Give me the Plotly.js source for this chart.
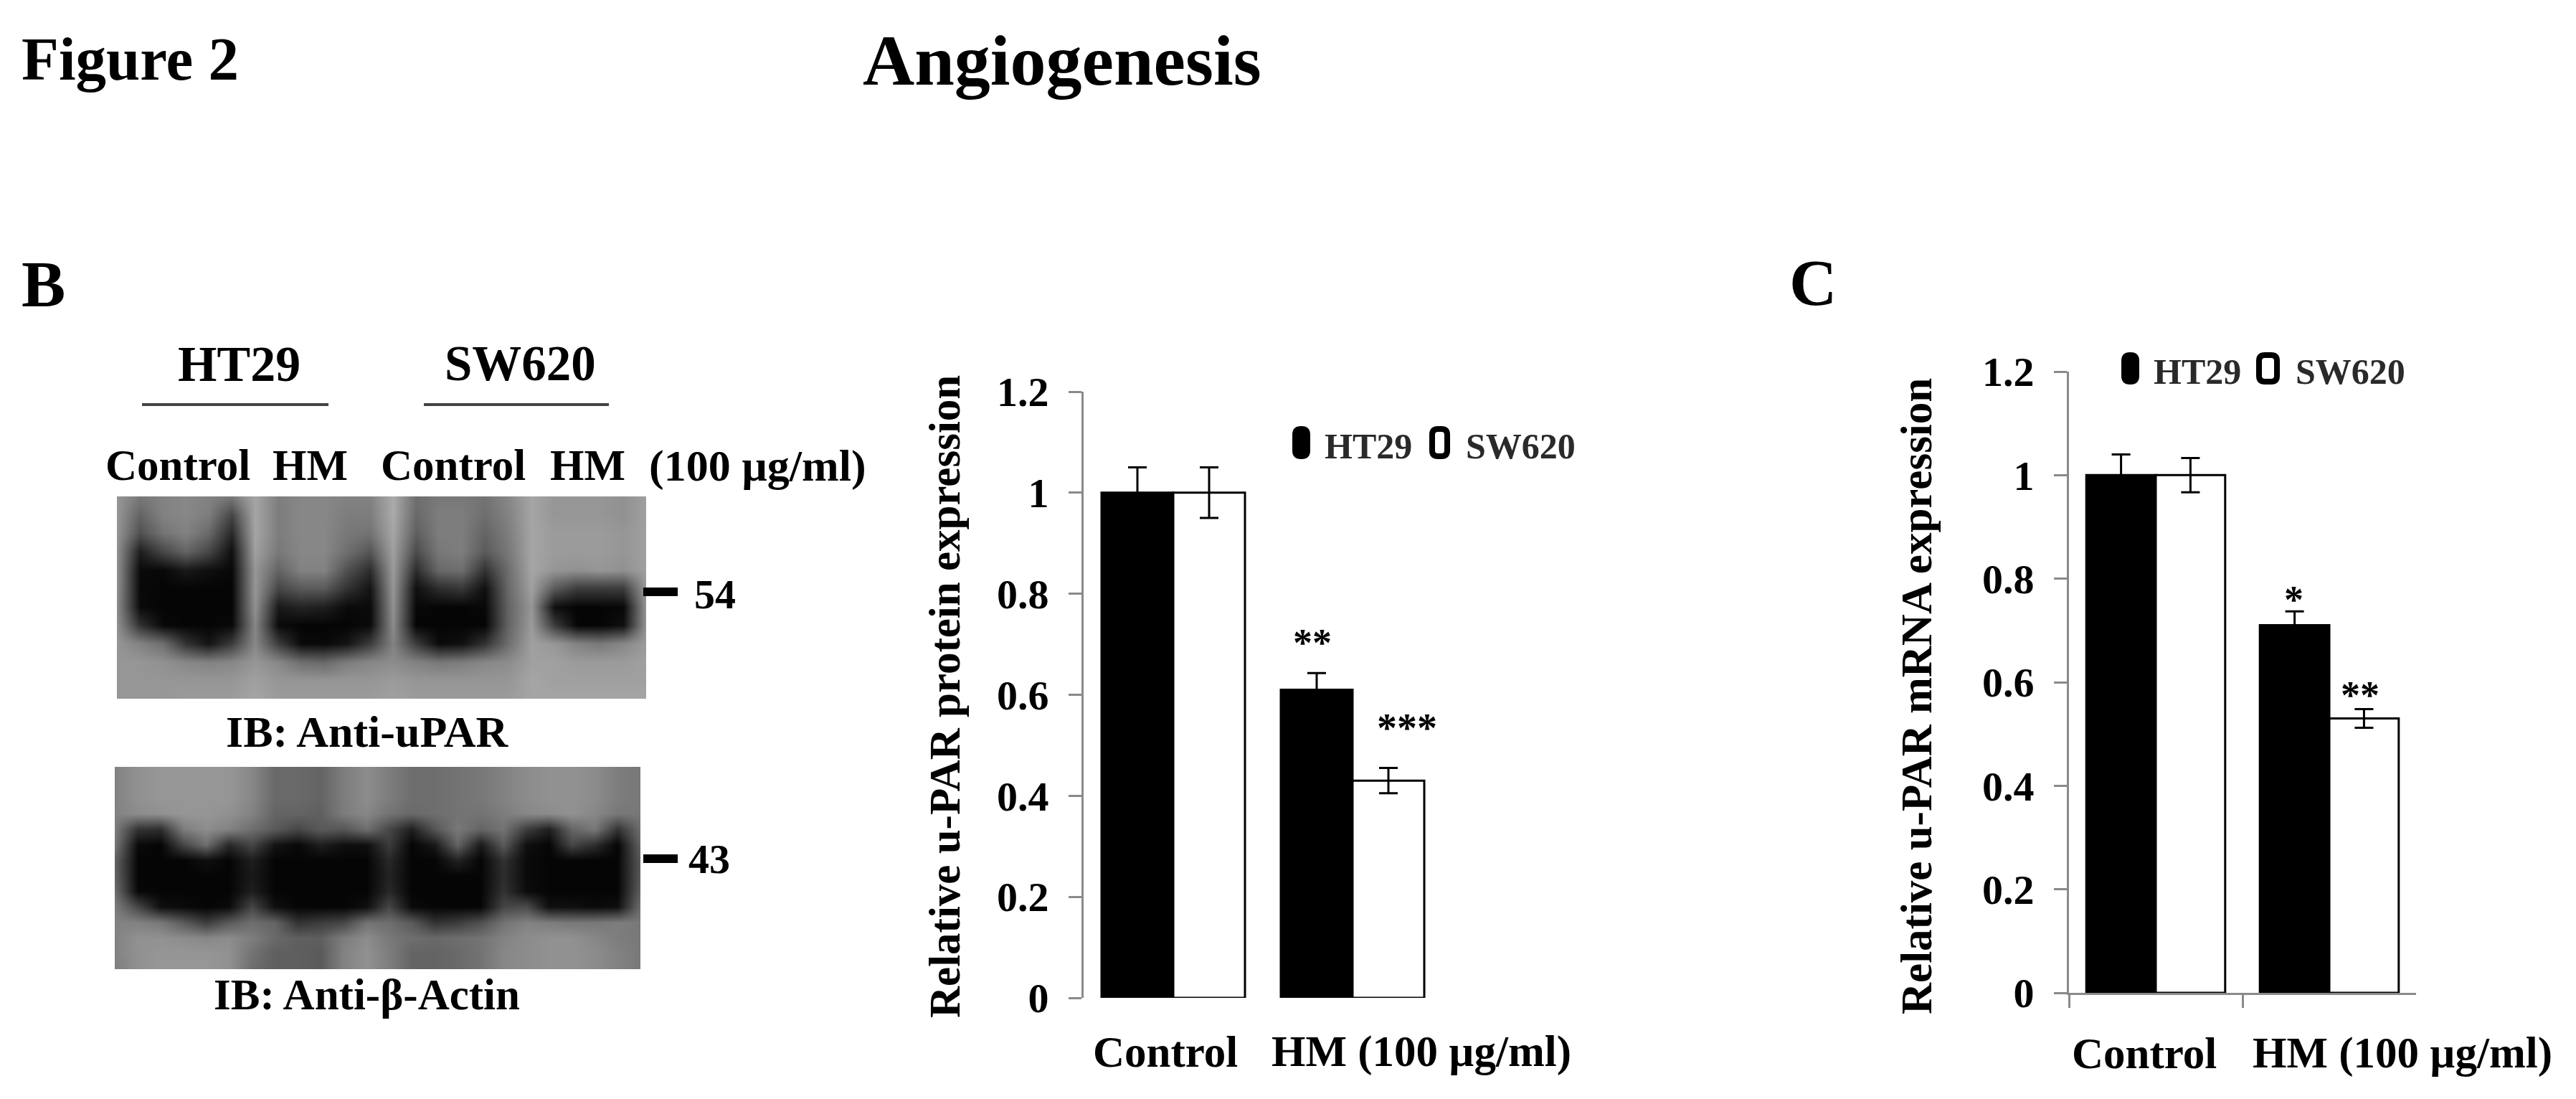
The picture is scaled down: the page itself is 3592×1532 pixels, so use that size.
<!DOCTYPE html>
<html><head><meta charset="utf-8">
<script src="https://cdn.plot.ly/plotly-3.0.1.min.js"></script>
<style>html,body{margin:0;padding:0;background:#fff}</style></head>
<body><div id="chart" style="width:3592px;height:1532px"></div>
<script>
const categories = ["Control", "HM (100 µg/ml)"];
const seriesNames = ["HT29", "SW620"];
const proteinHT29 = [1, 0.61];
const proteinSW620 = [1, 0.43];
const proteinHT29Err = [0.05, 0.033];
const proteinSW620Err = [0.05, 0.025];
const mrnaHT29 = [1, 0.71];
const mrnaSW620 = [1, 0.53];
const mrnaHT29Err = [0.04, 0.027];
const mrnaSW620Err = [0.033, 0.018];

const blotUPAR = [
[150,120,130,135,130,120,165,125,135,135,130,130,170,110,120,120,115,135,165,150,150,150,145,160],
[150,100,130,135,125,70,165,125,135,135,125,125,170,105,125,125,110,130,165,150,150,150,145,160],
[150,80,115,130,105,40,165,125,135,135,120,115,165,95,125,125,100,125,165,155,155,155,150,160],
[145,30,70,100,70,15,160,120,135,135,110,85,160,75,120,125,90,120,165,155,155,155,150,160],
[145,10,8,25,15,8,150,100,130,130,80,45,155,45,105,110,50,110,165,150,145,150,145,160],
[145,8,5,5,5,5,150,70,90,90,50,20,150,15,45,55,15,105,160,90,60,60,60,155],
[140,10,5,5,5,5,145,25,35,30,10,10,145,8,5,5,8,100,150,15,5,5,8,150],
[145,50,8,5,5,8,135,10,5,5,5,10,140,5,5,5,5,100,155,60,5,5,15,150],
[150,130,110,50,20,60,135,60,10,8,20,60,130,60,10,15,50,110,160,150,130,120,135,155],
[150,150,145,135,130,135,150,135,110,105,125,135,140,130,120,125,135,140,160,160,155,155,155,160],
[150,150,150,150,150,150,160,150,150,150,150,150,155,150,150,150,150,150,165,160,160,160,160,160],
[150,150,150,155,155,155,165,155,155,155,155,155,160,155,155,155,155,155,165,165,165,165,165,165]
];
const blotActin = [
[130,145,150,150,150,150,135,105,105,100,125,140,125,110,110,115,120,130,140,145,145,140,125,120],
[130,145,150,150,150,150,135,105,105,100,125,140,125,110,110,115,120,130,140,145,145,140,125,120],
[130,145,150,150,150,150,135,105,105,100,125,140,125,110,110,115,120,130,140,145,145,140,125,120],
[130,140,145,150,150,145,130,100,100,95,125,135,115,105,110,115,115,125,135,140,145,135,120,120],
[125,50,45,125,140,130,110,90,70,90,85,110,70,30,85,120,100,115,60,30,100,120,50,110],
[120,10,5,70,110,40,70,20,8,30,15,15,60,5,25,100,25,90,15,5,70,45,5,100],
[100,5,5,5,15,5,30,5,5,5,5,5,40,5,5,35,5,50,10,5,5,5,5,90],
[100,5,5,5,5,5,25,5,5,5,5,5,35,5,5,5,5,45,10,5,5,5,5,90],
[110,8,5,5,5,5,30,5,5,5,5,5,40,5,5,5,5,50,12,5,5,5,5,95],
[125,70,15,10,5,10,70,15,5,5,5,15,70,10,5,5,5,70,75,15,15,10,15,110],
[130,130,120,90,60,90,110,100,50,60,70,115,110,90,50,60,80,115,130,125,120,120,125,120],
[130,145,145,140,135,140,125,105,95,95,125,140,120,110,105,110,115,130,140,145,145,135,125,120],
[130,145,150,150,150,145,115,95,95,90,130,145,125,100,100,105,115,135,140,145,145,140,130,120],
[125,145,150,150,150,145,110,95,95,90,130,145,125,100,100,105,115,135,140,145,145,140,130,120]
];

const W = 3592, H = 1532;
const px = v => v / W;
const py = v => 1 - v / H;
const serif = "Liberation Serif";
const barLine = {color: "#000", width: 3};

function bars(name, vals, errs, fill, xa, ya) {
  return {type: "bar", name, x: categories, y: vals, xaxis: xa, yaxis: ya, showlegend: false,
    marker: {color: fill, line: barLine},
    error_y: {type: "data", array: errs, visible: true, color: "#000", thickness: 3, width: 13}};
}
function blot(z, xa, ya) {
  return {type: "heatmap", z, xaxis: xa, yaxis: ya, zmin: 0, zmax: 255, zsmooth: "best", showscale: false,
    hoverinfo: "skip", colorscale: [[0, "#000"], [1, "#fff"]]};
}
function yAxis(dom, anchor) {
  return {domain: dom, anchor, range: [0, 1.2], dtick: 0.2, tick0: 0, showgrid: false, zeroline: false,
    showline: true, linecolor: "#8a8a8a", linewidth: 3, ticks: "outside", ticklen: 18, tickwidth: 3, tickcolor: "#8a8a8a",
    tickfont: {family: serif, size: 58, color: "#000", weight: "bold"}, ticklabelstandoff: 16};
}
function hidden(dom, anchor, extra) {
  return Object.assign({domain: dom, anchor, visible: false, showgrid: false, zeroline: false, fixedrange: true}, extra);
}

const data = [
  blot(blotUPAR, "x3", "y3"),
  blot(blotActin, "x4", "y4"),
  bars(seriesNames[0], proteinHT29, proteinHT29Err, "#000", "x", "y"),
  bars(seriesNames[1], proteinSW620, proteinSW620Err, "#fff", "x", "y"),
  bars(seriesNames[0], mrnaHT29, mrnaHT29Err, "#000", "x2", "y2"),
  bars(seriesNames[1], mrnaSW620, mrnaSW620Err, "#fff", "x2", "y2")
];

function text(t, x, y, size, opts) {
  return Object.assign({text: "<b>" + t + "</b>", xref: "paper", yref: "paper", x: px(x), y: py(y), showarrow: false,
    xanchor: "center", yanchor: "middle", font: {family: serif, size, color: "#000"}}, opts || {});
}
function roundRect(x0, y0, x1, y1, r) {
  const X0 = px(x0), X1 = px(x1), Y0 = py(y0), Y1 = py(y1), rx = r / W, ry = r / H;
  return `M${X0 + rx},${Y0} L${X1 - rx},${Y0} Q${X1},${Y0} ${X1},${Y0 - ry} L${X1},${Y1 + ry} Q${X1},${Y1} ${X1 - rx},${Y1} L${X0 + rx},${Y1} Q${X0},${Y1} ${X0},${Y1 + ry} L${X0},${Y0 - ry} Q${X0},${Y0} ${X0 + rx},${Y0} Z`;
}
const swatch = (x0, y0, x1, y1, fill) => ({type: "path", xref: "paper", yref: "paper", path: roundRect(x0, y0, x1, y1, 8),
  fillcolor: fill, line: {color: "#000", width: 8}});
const rule = (x0, y, x1, w, color) => ({type: "line", xref: "paper", yref: "paper", x0: px(x0), x1: px(x1), y0: py(y), y1: py(y),
  line: {color, width: w}});
const legendFont = {font: {family: serif, size: 50, color: "#2a2a2a"}};

const annotations = [
  text("Figure 2", 181, 82, 85),
  text("Angiogenesis", 1481, 85, 100),
  text("B", 60, 396, 92),
  text("C", 2528, 394, 92),
  text(seriesNames[0], 333, 507, 70),
  text(seriesNames[1], 725, 507, 69),
  text(categories[0], 248, 648, 61),
  text("HM", 432, 648, 61),
  text(categories[0], 632, 648, 61),
  text("HM", 819, 648, 61),
  text("(100 µg/ml)", 1056, 650, 62),
  text("54", 997, 829, 58),
  text("43", 989, 1197, 58),
  text("IB: Anti-uPAR", 512, 1020, 62),
  text("IB: Anti-β-Actin", 511, 1386, 61),
  text("Relative u-PAR protein expression", 1317, 971, 61, {textangle: -90}),
  text("Relative u-PAR mRNA expression", 2672, 971, 61, {textangle: -90}),
  text(categories[0], 1625, 1466, 61),
  text(categories[1], 1982, 1466, 61),
  text(categories[0], 2990, 1468, 61),
  text(categories[1], 3350, 1468, 61),
  text("**", 1830, 896, 54),
  text("***", 1962, 1015, 56),
  text("*", 3198, 836, 54),
  text("**", 3291, 969, 54),
  text(seriesNames[0], 1908, 622, 50, legendFont),
  text(seriesNames[1], 2120, 622, 50, legendFont),
  text(seriesNames[0], 3064, 518, 50, legendFont),
  text(seriesNames[1], 3277, 518, 50, legendFont)
];

const shapes = [
  rule(198, 564, 458, 4, "#444"),
  rule(591, 564, 849, 4, "#444"),
  rule(897, 825, 945, 12, "#000"),
  rule(897, 1197, 945, 12, "#000"),
  swatch(1806, 598, 1823, 636, "#000"),
  swatch(1997, 598, 2018, 636, "#fff"),
  swatch(2962, 495, 2979, 532, "#000"),
  swatch(3150, 495, 3175, 532, "#fff")
];

const layout = {
  width: W, height: H, margin: {l: 0, r: 0, t: 0, b: 0}, paper_bgcolor: "#fff", plot_bgcolor: "rgba(0,0,0,0)",
  barmode: "group", bargap: 0.2, bargroupgap: 0, showlegend: false,
  xaxis: {domain: [px(1511), px(2011)], anchor: "y", type: "category", range: [-0.5, 1.5], showline: false, ticks: "", showticklabels: false, showgrid: false, zeroline: false},
  yaxis: yAxis([py(1391), py(546)], "x"),
  xaxis2: {domain: [px(2885), px(3369)], anchor: "y2", type: "category", range: [-0.5, 1.5], showline: true, linecolor: "#8a8a8a", linewidth: 3,
    ticks: "outside", tickson: "boundaries", ticklen: 18, tickwidth: 3, tickcolor: "#8a8a8a", showticklabels: false, showgrid: false, zeroline: false},
  yaxis2: yAxis([py(1384), py(518)], "x2"),
  xaxis3: hidden([px(163), px(901)], "y3", {range: [0, 23]}),
  yaxis3: hidden([py(974), py(692)], "x3", {range: [11, 0]}),
  xaxis4: hidden([px(160), px(893)], "y4", {range: [0, 23]}),
  yaxis4: hidden([py(1351), py(1069)], "x4", {range: [13, 0]}),
  annotations, shapes
};
Plotly.newPlot("chart", data, layout, {displayModeBar: false, staticPlot: true});
</script></body></html>
